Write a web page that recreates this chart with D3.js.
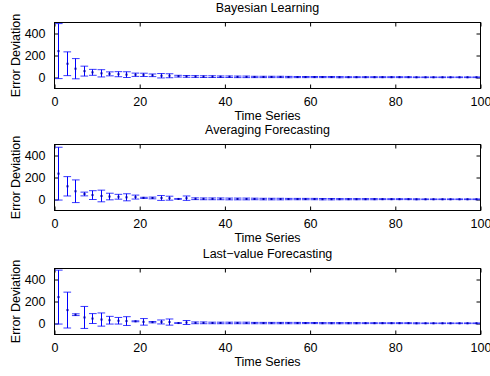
<!DOCTYPE html>
<html>
<head>
<meta charset="utf-8">
<script src="https://cdn.jsdelivr.net/npm/d3@7"></script>
<style>
  html, body { margin: 0; padding: 0; background: #fff; }
  svg { display: block; }
  text { font-family: "Liberation Sans", Arial, Helvetica, sans-serif; fill: #000; }
</style>
</head>
<body>
<svg id="fig" width="490" height="376"></svg>
<script>
// Time steps at which each forecaster is evaluated
const timeSteps = [1, 3, 5, 7, 9, 11, 13, 15, 17, 19, 21, 23, 25, 27, 29, 31, 33, 35, 37, 39,
                   41, 43, 45, 47, 49, 51, 53, 55, 57, 59, 61, 63, 65, 67, 69, 71, 73, 75, 77, 79,
                   81, 83, 85, 87, 89, 91, 93, 95, 97, 99];

// Mean error deviation and its spread (half-width of the error bar) per method
const bayesMean = [240, 125, 80, 58, 47, 38, 33, 30, 26, 25, 24, 20, 16, 16, 12, 10, 9, 8, 8, 7,
                   7, 6, 6, 5, 5, 5, 5, 4, 4, 4, 4, 4, 4, 3, 3, 3, 3, 3, 3, 3,
                   3, 3, 2, 2, 2, 2, 2, 2, 2, 2];
const bayesErr  = [250, 108, 92, 45, 27, 33, 18, 23, 26, 15, 15, 12, 20, 18, 8, 8, 8, 8, 8, 7,
                   7, 7, 7, 6, 6, 6, 6, 6, 5, 5, 5, 5, 5, 5, 4, 4, 4, 4, 4, 4,
                   4, 4, 3, 3, 3, 3, 3, 3, 3, 3];

const avgMean = [235, 120, 75, 50, 40, 32, 27, 25, 20, 22, 15, 14, 14, 12, 5, 12, 7, 6, 6, 6,
                 5, 5, 5, 5, 4, 4, 4, 4, 4, 4, 4, 3, 3, 3, 3, 3, 3, 3, 3, 3,
                 3, 3, 2, 2, 2, 2, 2, 2, 2, 2];
const avgErr  = [240, 88, 103, 17, 40, 53, 30, 22, 32, 18, 5, 8, 22, 18, 3, 20, 8, 8, 8, 8,
                 8, 8, 8, 7, 7, 7, 7, 6, 6, 6, 6, 6, 6, 5, 5, 5, 5, 5, 4, 4,
                 4, 4, 4, 3, 3, 3, 3, 3, 3, 3];

const lastMean = [240, 122, 80, 55, 45, 36, 30, 25, 22, 20, 15, 12, 14, 13, 4, 9, 6, 6, 5, 5,
                  5, 5, 5, 4, 4, 4, 4, 4, 4, 4, 4, 3, 3, 3, 3, 3, 3, 3, 3, 3,
                  3, 3, 2, 2, 2, 2, 2, 2, 2, 2];
const lastErr  = [245, 163, 8, 100, 45, 60, 35, 30, 40, 4, 30, 6, 18, 28, 3, 18, 8, 8, 7, 7,
                  7, 7, 7, 6, 6, 6, 6, 6, 6, 5, 5, 5, 5, 5, 5, 5, 4, 4, 4, 4,
                  4, 4, 4, 3, 3, 3, 3, 3, 3, 3];

const panelTitles = ["Bayesian Learning", "Averaging Forecasting", "Last\u2212value Forecasting"];
const xTicks = [0, 20, 40, 60, 80, 100];
const yTicks = [0, 200, 400];
const xLabel = "Time Series";
const yLabel = "Error Deviation";

const panels = [
  { title: panelTitles[0], mean: bayesMean, err: bayesErr, top: 22.5 },
  { title: panelTitles[1], mean: avgMean,   err: avgErr,   top: 144.5 },
  { title: panelTitles[2], mean: lastMean,  err: lastErr,  top: 268.5 }
];

const svg = d3.select("#fig");
const left = 54.5, right = 480.5, plotH = 66;
const fontSize = 12.5;
const tickLen = 4;
const capHalf = 0.9;   // half-width of error bar caps, in time units
const blue = "#0000ff";

const x = d3.scaleLinear().domain([0, 100]).range([left, right]);
const px = v => Math.round(x(v) - 0.5) + 0.5;   // snap stems to pixel centres

panels.forEach((p, i) => {
  const y = d3.scaleLinear().domain([-100, 500]).range([p.top + plotH, p.top]);
  const g = svg.append("g");

  const clipId = "clip" + i;
  svg.append("clipPath").attr("id", clipId)
    .append("rect").attr("x", left).attr("y", p.top).attr("width", right - left).attr("height", plotH);

  // axes: ticks point inward on all four sides
  const bottomAx = d3.axisBottom(x).tickValues(xTicks).tickSizeInner(-tickLen).tickSizeOuter(0).tickPadding(tickLen + 5);
  const topAx = d3.axisTop(x).tickValues(xTicks).tickSizeInner(-tickLen).tickSizeOuter(0).tickFormat("");
  const leftAx = d3.axisLeft(y).tickValues(yTicks).tickSizeInner(-tickLen).tickSizeOuter(0).tickPadding(tickLen + 5);
  const rightAx = d3.axisRight(y).tickValues(yTicks).tickSizeInner(-tickLen).tickSizeOuter(0).tickFormat("");

  const axes = [
    g.append("g").attr("transform", `translate(0,${p.top + plotH})`).call(bottomAx),
    g.append("g").attr("transform", `translate(0,${p.top})`).call(topAx),
    g.append("g").attr("transform", `translate(${left},0)`).call(leftAx),
    g.append("g").attr("transform", `translate(${right},0)`).call(rightAx)
  ];
  axes.forEach(a => {
    a.select(".domain").remove();
    a.selectAll(".tick line").attr("stroke", "#000");
    a.selectAll("text").attr("font-size", fontSize).attr("font-family", null).attr("fill", "#000");
  });

  // error bars
  const bars = g.append("g").attr("clip-path", `url(#${clipId})`);
  const rows = timeSteps.map((t, k) => ({ t, m: p.mean[k], e: p.err[k] }));

  ["lo", "hi"].forEach(side => {
    bars.selectAll("line.cap-" + side).data(rows).join("line")
      .attr("class", "cap-" + side)
      .attr("x1", d => x(d.t - capHalf)).attr("x2", d => x(d.t + capHalf))
      .attr("y1", d => y(side === "hi" ? d.m + d.e : d.m - d.e))
      .attr("y2", d => y(side === "hi" ? d.m + d.e : d.m - d.e))
      .attr("stroke", "#3a3aff").attr("stroke-width", 1);
  });

  bars.selectAll("line.stem").data(rows).join("line")
    .attr("class", "stem")
    .attr("x1", d => px(d.t)).attr("x2", d => px(d.t))
    .attr("y1", d => y(d.m - d.e)).attr("y2", d => y(d.m + d.e))
    .attr("stroke", blue).attr("stroke-width", 1);

  bars.selectAll("rect.pt").data(rows).join("rect")
    .attr("class", "pt")
    .attr("x", d => px(d.t) - 1).attr("y", d => y(d.m) - 1)
    .attr("width", 2).attr("height", 2)
    .attr("fill", "#0000b0");

  // frame
  g.append("rect")
    .attr("x", left).attr("y", p.top).attr("width", right - left).attr("height", plotH)
    .attr("fill", "none").attr("stroke", "#000").attr("stroke-width", 1);

  // labels
  const cx = (left + right) / 2;
  g.append("text").attr("x", cx).attr("y", p.top - 11).attr("text-anchor", "middle")
    .attr("font-size", fontSize).text(p.title);
  g.append("text").attr("x", cx).attr("y", p.top + plotH + 31.5).attr("text-anchor", "middle")
    .attr("font-size", fontSize).text(xLabel);
  g.append("text")
    .attr("transform", `translate(20,${p.top + plotH / 2}) rotate(-90)`)
    .attr("text-anchor", "middle").attr("font-size", fontSize).text(yLabel);
});
</script>
</body>
</html>
